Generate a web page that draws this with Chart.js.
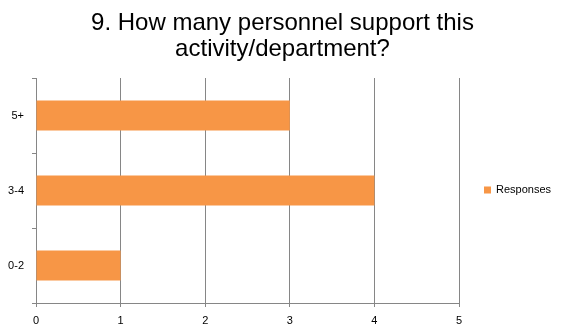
<!DOCTYPE html>
<html>
<head>
<meta charset="utf-8">
<script src="https://cdn.jsdelivr.net/npm/chart.js@4.4.1/dist/chart.umd.min.js"></script>
<style>
  html, body { margin: 0; padding: 0; background: #fff; }
  #wrap { width: 565px; height: 336px; }
</style>
</head>
<body>
<div id="wrap"><canvas id="myChart" width="565" height="336"></canvas></div>
<script>
var categories = ['5+', '3-4', '0-2'];
var responses = [3, 4, 1];
var xTicks = [0, 1, 2, 3, 4, 5];
var seriesName = 'Responses';
var titleLines = ['9. How many personnel support this', 'activity/department?'];

var barColor = '#F79646';
var axisColor = '#868686';
var fontFamily = '"Liberation Sans", Arial, sans-serif';

// legend drawn by hand so it can sit where the original one does
var sideLegend = {
  id: 'sideLegend',
  afterDraw: function (chart) {
    var ctx = chart.ctx;
    var ds = chart.data.datasets[0];
    var y = (chart.chartArea.top + chart.chartArea.bottom) / 2 - 0.5;
    ctx.save();
    ctx.fillStyle = ds.backgroundColor;
    ctx.fillRect(484, y - 3.5, 7, 7);
    ctx.fillStyle = '#000';
    ctx.font = '11px ' + fontFamily;
    ctx.textBaseline = 'middle';
    ctx.textAlign = 'left';
    ctx.fillText(ds.label, 496, y);
    ctx.restore();
  }
};

new Chart('myChart', {
  type: 'bar',
  data: {
    labels: categories,
    datasets: [{
      label: seriesName,
      data: responses,
      backgroundColor: barColor,
      borderWidth: 0,
      categoryPercentage: 1,
      barPercentage: 0.4
    }]
  },
  options: {
    indexAxis: 'y',
    responsive: false,
    animation: false,
    layout: { padding: 0 },
    plugins: {
      legend: { display: false },
      tooltip: { enabled: false },
      title: {
        display: true,
        text: titleLines,
        color: '#000',
        font: { family: fontFamily, size: 24, weight: 'normal', lineHeight: '26px' },
        padding: { top: 10, bottom: 16 }
      }
    },
    scales: {
      x: {
        min: 0,
        max: 5,
        afterBuildTicks: function (scale) {
          scale.ticks = xTicks.map(function (v) { return { value: v }; });
        },
        afterFit: function (scale) { scale.height = 33; },
        grid: { color: axisColor, lineWidth: 1, tickLength: 4, drawTicks: true },
        border: { color: axisColor, width: 1 },
        ticks: { color: '#000', font: { family: fontFamily, size: 11 }, padding: 7, maxRotation: 0 }
      },
      y: {
        offset: true,
        afterFit: function (scale) { scale.width = 36; },
        grid: { offset: true, drawOnChartArea: false, color: axisColor, tickLength: 4 },
        border: { color: axisColor, width: 1 },
        ticks: { color: '#000', font: { family: fontFamily, size: 11 }, padding: 8 }
      },
      // empty right-hand axis that only reserves room for the legend
      legendSpace: {
        type: 'category',
        position: 'right',
        labels: categories,
        afterFit: function (scale) { scale.width = 106; },
        grid: { display: false },
        border: { display: false },
        ticks: { display: false }
      }
    }
  },
  plugins: [sideLegend]
});
</script>
</body>
</html>
